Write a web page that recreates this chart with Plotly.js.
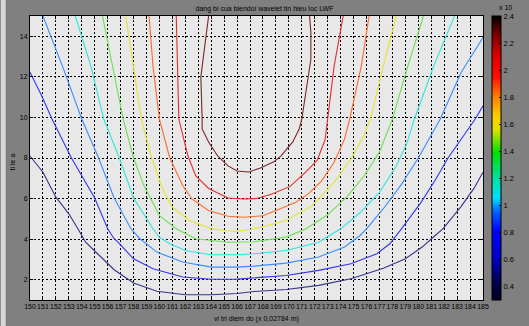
<!DOCTYPE html>
<html>
<head>
<meta charset="utf-8">
<script src="https://cdn.plot.ly/plotly-3.0.1.min.js"></script>
<style>html,body{margin:0;padding:0;background:#808080;}#chart{width:529px;height:326px;}</style>
</head>
<body>
<div id="chart"></div>
<script>
// x axis ticks (vi tri diem do) and y axis ticks (ti le a)
var xTicks = [150,151,152,153,154,155,156,157,158,159,160,161,162,163,164,165,166,167,168,169,170,171,172,173,174,175,176,177,178,179,180,181,182,183,184,185];
var yTicks = [2,4,6,8,10,12,14];
var cbTicks = [0.4,0.6,0.8,1,1.2,1.4,1.6,1.8,2,2.2,2.4];

// contour levels and the colours used for each contour line
var levelNames = ['0.45','0.65','0.85','1.05','1.25','1.5','1.7','1.95','2.2'];
var levelColors = ['#35358a','#3535ee','#3a8cff','#2ee4e4','#6ce052','#e4e42e','#ff6a2a','#e82a2a','#7a2828'];

// contour lines
var c1x = [150.0,151.0,152.0,153.0,153.7,154.3,155.3,156.5,158.0,159.8,162.0,164.0,166.0,167.3,169.8,172.3,174.8,177.3,179.0,180.3,181.3,181.9,183.3,184.3,185.0];
var c1y = [8.1,7.3,6.07,5.25,4.51,3.85,3.23,2.49,1.84,1.43,1.26,1.26,1.32,1.42,1.52,1.72,2.05,2.57,3.03,3.61,4.18,4.51,5.6,6.5,7.3];
var c2x = [150.0,150.9,151.7,153.2,155.0,156.0,156.5,156.8,158.0,159.5,161.8,164.0,166.0,167.3,169.8,172.3,174.8,176.8,177.8,178.7,180.2,181.3,182.3,184.4,185.0];
var c2y = [12.23,11.07,9.92,8.0,6.03,4.51,4.02,3.85,3.03,2.54,2.13,2.02,2.03,2.08,2.21,2.46,2.79,3.28,3.77,4.51,5.8,6.9,8.0,9.92,10.57];
var c3x = [151.0,152.5,154.0,155.3,156.5,157.8,158.5,159.8,161.8,164.0,166.0,167.3,169.8,172.3,174.3,175.5,176.0,177.3,178.7,180.0,181.7,183.3,185.0];
var c3y = [15,12.54,9.92,8.0,6.03,4.51,4.02,3.36,2.87,2.62,2.62,2.67,2.82,3.12,3.61,4.18,4.51,5.5,6.7,8.0,9.92,12.2,13.94];
var c4x = [153.5,154.7,155.7,156.9,158.0,159.0,159.5,160.0,160.8,162.0,164.0,166.0,167.3,169.8,172.3,174.0,175.5,177.0,178.3,179.1,179.7,181.2,182.8];
var c4y = [15,12.54,9.92,8.0,6.03,5.0,4.51,4.10,3.77,3.44,3.23,3.23,3.28,3.44,3.85,4.51,5.3,6.3,7.6,8.7,9.92,12.54,15];
var c5x = [155.6,156.4,157.2,158.0,158.8,160.0,161.3,162.8,165.3,167.3,169.8,171.3,173.0,174.5,175.8,177.0,178.0,179.2,180.4];
var c5y = [15,12.54,9.92,8.0,6.64,5.16,4.51,4.02,3.85,3.87,4.10,4.5,5.2,6.1,7.1,8.3,9.92,12.54,15];
var c6x = [157.4,158.0,158.6,159.4,160.3,161.0,162.3,164.0,165.8,167.3,169.8,171.8,173.5,174.8,175.8,176.3,177.3,178.3];
var c6y = [15,12.54,9.92,8.0,6.39,5.57,4.92,4.51,4.38,4.5,4.92,5.65,6.8,7.95,9.1,9.92,12.54,15];
var c7x = [159.2,159.5,160.0,160.8,161.8,162.5,163.8,165.3,166.5,168.0,169.0,170.5,171.5,172.5,173.5,174.3,174.7,175.6,176.2];
var c7y = [15,12.54,9.92,8.0,6.64,5.98,5.41,5.13,5.08,5.15,5.41,5.8,6.23,6.85,7.79,8.93,9.92,12.54,15];
var c8x = [161.3,161.4,161.5,162.2,162.8,163.8,165.3,166.5,167.5,168.6,170.1,171.3,172.2,172.8,173.0,173.5,174.2];
var c8y = [15,12.54,9.92,8.11,7.13,6.5,6.03,5.98,6.0,6.2,6.6,7.3,7.9,8.9,9.92,12.54,15];
var c9x = [163.8,163.2,163.3,163.3,163.8,164.5,165.3,166.0,166.9,167.8,168.8,169.4,170.3,170.8,171.0,171.7,171.7,171.6];
var c9y = [15,12.0,9.92,9.43,8.79,8.10,7.61,7.36,7.31,7.51,7.80,8.10,8.79,9.43,9.92,12.87,14.2,15];

var linesX = [c1x,c2x,c3x,c4x,c5x,c6x,c7x,c8x,c9x];
var linesY = [c1y,c2y,c3y,c4y,c5y,c6y,c7y,c8y,c9y];

var cmap = [
  [0.0,'#000018'],[0.07,'#00005a'],[0.15,'#0000c8'],[0.24,'#0000ff'],
  [0.31,'#0060ff'],[0.36,'#00e0ff'],[0.43,'#00e0a0'],[0.52,'#00e000'],
  [0.6,'#e0e000'],[0.645,'#ffd000'],[0.715,'#ff8000'],[0.785,'#ff1000'],
  [0.86,'#e00000'],[0.93,'#800000'],[1.0,'#000000']];

var fam = 'Liberation Sans Narrow, Arial Narrow, Liberation Sans, Arial';
var axFont = {family:fam, size:7, color:'#000'};

var traces = [];
for (var i = 0; i < linesX.length; i++) {
  traces.push({type:'scatter', mode:'lines', x: linesX[i], y: linesY[i], name: levelNames[i],
    line:{color: levelColors[i], width:1.1}, hoverinfo:'skip', showlegend:false});
}
traces.push({type:'scatter', mode:'markers', x:[150,150], y:[1,1], showlegend:false, hoverinfo:'skip',
  marker:{size:0.1, opacity:0, color:[0.3,2.4], cmin:0.3, cmax:2.4, colorscale:cmap, showscale:true,
    colorbar:{x:1.019, xanchor:'left', y:0.5, yanchor:'middle', len:1, lenmode:'fraction',
      thickness:9, thicknessmode:'pixels', xpad:0, ypad:0, outlinecolor:'#000', outlinewidth:1,
      tickvals: cbTicks, ticktext: cbTicks.map(String), ticks:'inside', ticklen:2, tickcolor:'#000',
      tickfont:{family:fam, size:7.5, color:'#000'}}}});

var layout = {
  width:529, height:326,
  margin:{l:30, r:33, t:16, b:26, pad:0},
  paper_bgcolor:'#808080', plot_bgcolor:'#e8e8e8',
  title:{text:'dang bi cua biendoi wavelet tin hieu loc LWF', font:{family:fam, size:7, color:'#000'}, x:0.5, xanchor:'center', y:0.975, yanchor:'middle'},
  xaxis:{range:[150,185], tickvals:xTicks, ticktext:xTicks.map(String), tickangle:0, showgrid:true, gridcolor:'#000', griddash:'2px,2px', gridwidth:1,
    ticks:'inside', ticklen:3, tickcolor:'#000', mirror:'ticks', showline:true, linecolor:'#000', linewidth:1, zeroline:false, tickfont:axFont, fixedrange:true},
  yaxis:{range:[1,15], tickvals:yTicks, ticktext:yTicks.map(String), tickangle:0, showgrid:true, gridcolor:'#000', griddash:'2px,2px', gridwidth:1,
    ticks:'inside', ticklen:3, tickcolor:'#000', mirror:'ticks', showline:true, linecolor:'#000', linewidth:1, zeroline:false, tickfont:axFont, fixedrange:true},
  annotations:[
    {text:'vi tri diem do (x 0,02784 m)', xref:'paper', yref:'paper', x:0.5, y:-0.067, xanchor:'center', yanchor:'middle', showarrow:false, font:axFont},
    {text:'ti le a', xref:'paper', yref:'paper', x:-0.0365, y:0.486, xanchor:'center', yanchor:'middle', textangle:-90, showarrow:false, font:axFont},
    {text:'x 10', xref:'paper', yref:'paper', x:1.05, y:1.03, xanchor:'center', yanchor:'middle', showarrow:false, font:axFont}
  ],
  shapes:[
    {type:'rect', xref:'paper', yref:'paper', x0:-0.0644, x1:-0.0537, y0:-0.092, y1:1.057, fillcolor:'#d8d8d8', line:{width:0}, layer:'below'}
  ]
};
Plotly.newPlot('chart', traces, layout, {staticPlot:true, displayModeBar:false});
</script>
</body>
</html>
